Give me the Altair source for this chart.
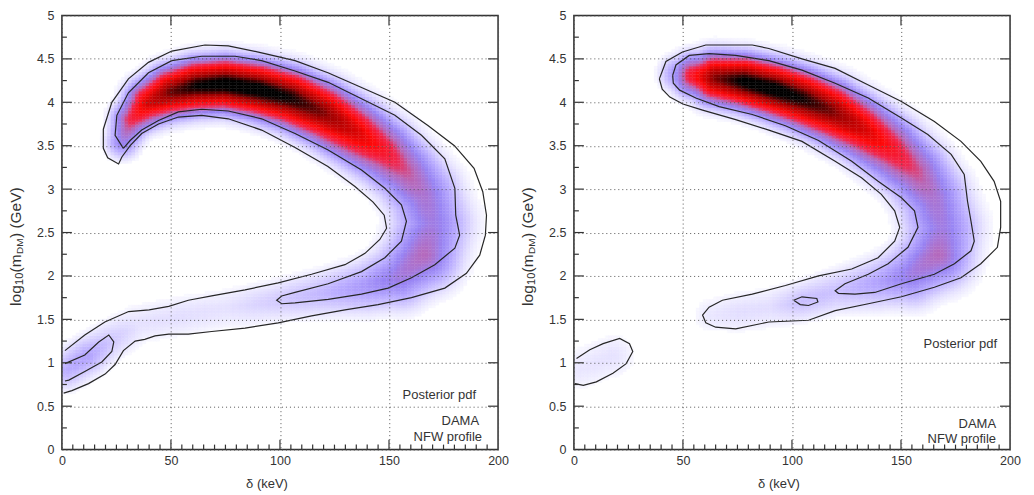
import numpy as np
import pandas as pd
import altair as alt

FONT = "Liberation Sans"
W, H = 437, 435

# ---------------- axis values ----------------
x_labels = [0, 50, 100, 150, 200]
y_labels = [0, 0.5, 1, 1.5, 2, 2.5, 3, 3.5, 4, 4.5, 5]
x_major_ticks = [50, 100, 150]
x_minor_ticks = [v for v in range(5, 200, 5) if v % 50 != 0]
y_major_ticks = [0.5, 1, 1.5, 2, 2.5, 3, 3.5, 4, 4.5]
y_minor_ticks = [0.25, 0.75, 1.25, 1.75, 2.25, 2.75, 3.25, 3.75, 4.25, 4.75]

# ---------------- posterior ridges ----------------
# left panel: segment id, delta (keV), log10 m, relative pdf, width (px)
L_seg   = [0]*25
L_delta = [28, 32, 40, 50, 62, 75, 90, 105, 120, 135, 148, 158, 166, 170, 166, 155, 140, 120, 100, 75, 55, 35, 22, 12, 2]
L_logm  = [3.55, 3.80, 4.00, 4.12, 4.19, 4.21, 4.15, 4.05, 3.88, 3.65, 3.43, 3.20, 2.93, 2.60, 2.25, 2.00, 1.88, 1.80, 1.72, 1.62, 1.54, 1.45, 1.25, 1.08, 0.92]
L_amp   = [0.32, 0.52, 0.72, 0.87, 0.96, 1.0, 1.0, 0.95, 0.85, 0.70, 0.56, 0.45, 0.37, 0.33, 0.41, 0.34, 0.25, 0.17, 0.12, 0.06, 0.07, 0.06, 0.13, 0.22, 0.19]
L_sig   = [14, 17, 21, 23, 24, 24, 25, 26, 27, 28, 28, 28, 30, 32, 31, 27, 22, 18, 16, 15, 15, 15, 15, 16, 16]

# right panel
R_seg   = [0]*20 + [1, 1]
R_delta = [48, 55, 65, 78, 92, 105, 118, 132, 145, 157, 165, 169, 167, 155, 140, 120, 105, 90, 75, 63, 3, 18]
R_logm  = [4.33, 4.31, 4.28, 4.24, 4.15, 4.04, 3.90, 3.70, 3.47, 3.20, 2.90, 2.55, 2.25, 2.02, 1.92, 1.82, 1.71, 1.63, 1.58, 1.55, 0.93, 1.08]
R_amp   = [0.28, 0.58, 0.85, 0.98, 1.0, 0.95, 0.86, 0.72, 0.58, 0.46, 0.37, 0.33, 0.41, 0.33, 0.22, 0.14, 0.15, 0.07, 0.07, 0.05, 0.05, 0.06]
R_sig   = [15, 19, 23, 24, 25, 26, 27, 27, 28, 28, 29, 31, 30, 26, 21, 17, 15, 15, 15, 13, 16, 16]

# ---------------- contours ----------------
L_outer_d = [0.8, 4.6, 12.2, 19.8, 24.4, 28.2, 33.6, 38, 42.7, 49, 58, 68.7, 84, 99.2, 114.5, 129.8, 145, 160.3, 175.6, 185.5, 191.6, 194.2, 194.7, 193, 189, 180, 168, 152.7, 137.4, 122, 106.9, 91.6, 76.3, 65.6, 50.4, 39.7, 30.5, 22.9, 19, 19, 21, 26, 27.5, 31.3, 36.6, 44.3, 53.4, 64.1, 76.3, 91.6, 106.9, 122, 134.4, 142.7, 147.8, 148.9, 145.8, 139, 129.8, 114.5, 99.2, 84, 68.7, 58, 49, 40, 30.6, 19.7, 10.5, 1.4]
L_outer_m = [0.65, 0.68, 0.76, 0.87, 0.98, 1.14, 1.25, 1.27, 1.31, 1.33, 1.33, 1.36, 1.40, 1.46, 1.54, 1.61, 1.67, 1.75, 1.86, 2.03, 2.24, 2.47, 2.70, 2.97, 3.24, 3.50, 3.73, 4.00, 4.17, 4.34, 4.48, 4.57, 4.65, 4.66, 4.59, 4.46, 4.27, 4.00, 3.69, 3.47, 3.36, 3.29, 3.37, 3.50, 3.64, 3.75, 3.83, 3.85, 3.81, 3.68, 3.48, 3.26, 3.03, 2.85, 2.70, 2.55, 2.42, 2.26, 2.13, 2.02, 1.92, 1.84, 1.77, 1.72, 1.65, 1.61, 1.59, 1.47, 1.32, 1.14]
L_inner_d = [28.2, 24.4, 25.2, 30.5, 39.7, 50.4, 64.1, 79.4, 91.6, 106.9, 122.1, 137.4, 152.7, 164.9, 175.6, 180.2, 180.6, 182.4, 180.2, 171, 160.3, 149.6, 137.4, 122.1, 106.9, 100.8, 98.5, 100.8, 106.9, 122.1, 137.4, 148.1, 155.7, 158, 155.7, 148.1, 137.4, 122.1, 106.9, 91.6, 76.3, 64.1, 53.4, 44.3, 36.6, 31.3, 28.2]
L_inner_m = [3.47, 3.62, 3.85, 4.11, 4.34, 4.48, 4.53, 4.53, 4.48, 4.36, 4.23, 4.04, 3.85, 3.62, 3.35, 3.01, 2.70, 2.47, 2.32, 2.13, 1.98, 1.86, 1.79, 1.73, 1.69, 1.68, 1.72, 1.77, 1.81, 1.91, 2.05, 2.21, 2.40, 2.63, 2.82, 3.01, 3.22, 3.45, 3.64, 3.81, 3.90, 3.92, 3.89, 3.79, 3.68, 3.56, 3.47]
L_blob_d = [1.4, 10.5, 16.9, 21.5, 23.8, 22.9, 18.3, 10.5, 3.2, 1.4]
L_blob_m = [0.99, 1.09, 1.24, 1.32, 1.24, 1.13, 1.01, 0.90, 0.80, 0.79]

R_outer_d = [39.2, 42.2, 49.8, 60.5, 81.8, 89.4, 104.6, 119.8, 135, 150.2, 165.3, 177.5, 186.6, 192.7, 195.7, 195.7, 194.2, 186.6, 177.5, 165.3, 150.2, 135, 119.8, 107.6, 89.4, 74.2, 65, 60.5, 59, 62, 68.1, 81.8, 97, 112.2, 127.4, 139.5, 147.1, 149.4, 147.1, 141, 131.9, 119.8, 104.6, 89.4, 74.2, 59, 50, 44, 40.5, 39.2]
R_outer_m = [4.27, 4.47, 4.58, 4.66, 4.66, 4.62, 4.50, 4.39, 4.20, 4.01, 3.78, 3.55, 3.32, 3.09, 2.86, 2.56, 2.33, 2.14, 1.98, 1.87, 1.76, 1.68, 1.60, 1.49, 1.47, 1.39, 1.41, 1.46, 1.55, 1.64, 1.72, 1.79, 1.89, 2.00, 2.08, 2.21, 2.40, 2.56, 2.75, 2.94, 3.13, 3.32, 3.55, 3.68, 3.80, 3.91, 3.98, 4.06, 4.15, 4.27]
R_inner_d = [45.3, 46.8, 52.9, 62, 74.2, 89.4, 104.6, 119.8, 135, 150.2, 162.3, 173, 179, 180.5, 182.1, 183.6, 182.1, 174.5, 165.3, 150.2, 138, 128.9, 121.3, 119.8, 124.3, 135, 144.1, 153.2, 157.8, 156.2, 150.2, 139.5, 127.4, 112.2, 97, 81.8, 66.6, 55.9, 48.5, 45.6, 45.3]
R_inner_m = [4.31, 4.43, 4.54, 4.56, 4.54, 4.48, 4.37, 4.22, 4.05, 3.82, 3.63, 3.40, 3.17, 2.86, 2.63, 2.40, 2.29, 2.14, 2.02, 1.91, 1.81, 1.79, 1.80, 1.83, 1.91, 2.02, 2.14, 2.33, 2.56, 2.75, 2.90, 3.09, 3.32, 3.56, 3.73, 3.86, 3.95, 4.05, 4.14, 4.22, 4.31]
R_small_d = [100.8, 104.6, 111.4, 111.9, 107.6, 103.8, 100.8]
R_small_m = [1.72, 1.76, 1.74, 1.70, 1.66, 1.67, 1.72]
R_blob_d = [1.2, 7.3, 13.4, 21, 25.5, 27, 24, 17.9, 10.3, 4.3, 0.5]
R_blob_m = [1.05, 1.15, 1.22, 1.28, 1.22, 1.13, 0.99, 0.88, 0.78, 0.74, 0.76]

# ---------------- colour map ----------------
c_domain = [0, 0.03, 0.1, 0.2, 0.3, 0.42, 0.5, 0.62, 0.82, 0.96]
c_range = ["#ffffff", "#f1efff", "#d9d2ff", "#b8aaff", "#9884f4", "#b868b8", "#f02850", "#ff0a0a", "#a00000", "#000000"]

STEP_X, STEP_Y = 1.6, 0.032
FLAT_P, FLAT_W, CORE_W, CORE_R = 3.5, 0.65, 0.35, 0.4


def density_table(seg, d, m, a, s):
    kx, ky = W / 200.0, H / 5.0
    xs = np.arange(0, 200, STEP_X) + STEP_X / 2
    ys = np.arange(0, 5, STEP_Y) + STEP_Y / 2
    X, Y = np.meshgrid(xs, ys)
    PX, PY = X.ravel() * kx, Y.ravel() * ky
    dens = np.zeros_like(PX)
    for i in range(len(d) - 1):
        if seg[i] != seg[i + 1]:
            continue
        ax, ay = d[i] * kx, m[i] * ky
        bx, by = d[i + 1] * kx, m[i + 1] * ky
        vx, vy = bx - ax, by - ay
        L2 = vx * vx + vy * vy
        t = np.clip(((PX - ax) * vx + (PY - ay) * vy) / L2, 0, 1)
        dist = np.sqrt((PX - ax - t * vx) ** 2 + (PY - ay - t * vy) ** 2)
        amp = a[i] + t * (a[i + 1] - a[i])
        sig = s[i] + t * (s[i + 1] - s[i])
        u = dist / sig
        prof = FLAT_W * np.exp(-0.5 * u ** FLAT_P) + CORE_W * np.exp(-0.5 * (u / CORE_R) ** 2)
        dens = np.maximum(dens, amp * prof)
    keep = dens > 0.012
    return pd.DataFrame({
        "x0": np.round(X.ravel()[keep] - STEP_X / 2, 2),
        "y0": np.round(Y.ravel()[keep] - STEP_Y / 2, 3),
        "v": np.round(dens[keep], 3),
    })


def contour_table(paths):
    rows = []
    for cid, (dd, mm) in enumerate(paths):
        for i, (a, b) in enumerate(zip(dd, mm)):
            rows.append({"cid": cid, "i": i, "d": a, "m": b})
    return pd.DataFrame(rows)


xscale = alt.Scale(domain=[0, 200], nice=False, zero=False)
yscale = alt.Scale(domain=[0, 5], nice=False, zero=False)
cscale = alt.Scale(domain=c_domain, range=c_range, interpolate="rgb")

xaxis = alt.Axis(values=x_labels, grid=True, gridDash=[1, 3], gridColor="#555", gridWidth=1,
                 ticks=False, tickSize=0, domain=False, labelPadding=5, labelFontSize=12.5,
                 labelFont=FONT, labelColor="#333", labelFlush=False, title="δ (keV)",
                 titleFont=FONT, titleFontSize=13, titleFontWeight="normal", titleColor="#333",
                 titleX=205, titleY=34, titleBaseline="middle", zindex=1)
yaxis = alt.Axis(values=y_labels, format="~g", grid=True, gridDash=[1, 3], gridColor="#555",
                 gridWidth=1, ticks=False, tickSize=0, domain=False, labelPadding=8,
                 labelFontSize=12.5, labelFont=FONT, labelColor="#333", title=None, zindex=1)

ONE = alt.Data(values=[{}])


def panel(seg, d, m, a, s, paths, notes):
    heat = alt.Chart(density_table(seg, d, m, a, s)).transform_calculate(
        x1=f"datum.x0 + {STEP_X * 1.04}", y1=f"datum.y0 + {STEP_Y * 1.04}"
    ).mark_rect(strokeWidth=0.3).encode(
        x=alt.X("x0:Q", scale=xscale, axis=xaxis),
        x2="x1:Q",
        y=alt.Y("y0:Q", scale=yscale, axis=yaxis),
        y2="y1:Q",
        fill=alt.Fill("v:Q", scale=cscale, legend=None),
        stroke=alt.Stroke("v:Q", scale=cscale, legend=None),
    )
    lines = alt.Chart(contour_table(paths)).mark_line(color="#262626", strokeWidth=1.2).encode(
        x=alt.X("d:Q", scale=xscale), y=alt.Y("m:Q", scale=yscale),
        detail="cid:N", order="i:Q")

    tk = dict(color="#333", strokeWidth=1.2)
    bx_maj = alt.Chart(pd.DataFrame({"t": x_major_ticks}))
    bx_min = alt.Chart(pd.DataFrame({"t": x_minor_ticks}))
    by_maj = alt.Chart(pd.DataFrame({"t": y_major_ticks}))
    by_min = alt.Chart(pd.DataFrame({"t": y_minor_ticks}))
    ticks = [
        bx_maj.mark_rule(**tk).encode(x=alt.X("t:Q", scale=xscale), y=alt.value(H), y2=alt.value(H - 10)),
        bx_maj.mark_rule(**tk).encode(x=alt.X("t:Q", scale=xscale), y=alt.value(0), y2=alt.value(10)),
        bx_min.mark_rule(**tk).encode(x=alt.X("t:Q", scale=xscale), y=alt.value(H), y2=alt.value(H - 5)),
        by_maj.mark_rule(**tk).encode(y=alt.Y("t:Q", scale=yscale), x=alt.value(0), x2=alt.value(10)),
        by_maj.mark_rule(**tk).encode(y=alt.Y("t:Q", scale=yscale), x=alt.value(W), x2=alt.value(W - 10)),
        by_min.mark_rule(**tk).encode(y=alt.Y("t:Q", scale=yscale), x=alt.value(0), x2=alt.value(5)),
    ]
    frame = alt.Chart(ONE).mark_rect(fill="transparent", stroke="#333", strokeWidth=1.5).encode(
        x=alt.value(0), x2=alt.value(W), y=alt.value(0), y2=alt.value(H))

    # rotated y title with subscripts
    ttl = []
    pieces = [("log", 15.5, 0, 0), ("10", 11, 21, 4), ("(m", 15.5, 33.5, 0),
              ("DM", 10, 52, 4.5), (") (GeV)", 15.5, 68, 0)]
    for txt, fs, dx, dy in pieces:
        ttl.append(alt.Chart(ONE).mark_text(text=txt, font=FONT, fontSize=fs, angle=270,
                                            align="left", baseline="middle", dx=dx, dy=dy,
                                            color="#333").encode(x=alt.value(-46), y=alt.value(291)))
    txts = []
    for txt, px, py in notes:
        txts.append(alt.Chart(ONE).mark_text(text=txt, font=FONT, fontSize=13, align="right",
                                             baseline="middle", color="#333").encode(
            x=alt.value(px), y=alt.value(py)))
    return alt.layer(heat, lines, *ticks, frame, *ttl, *txts).properties(width=W, height=H)


left = panel(L_seg, L_delta, L_logm, L_amp, L_sig,
             [(L_outer_d, L_outer_m), (L_inner_d, L_inner_m), (L_blob_d, L_blob_m)],
             [("Posterior pdf", 415, 380), ("DAMA", 418, 406), ("NFW profile", 421, 422)])
right = panel(R_seg, R_delta, R_logm, R_amp, R_sig,
              [(R_outer_d, R_outer_m), (R_inner_d, R_inner_m), (R_small_d, R_small_m), (R_blob_d, R_blob_m)],
              [("Posterior pdf", 424, 329), ("DAMA", 423, 409), ("NFW profile", 423, 424)])

chart = alt.hconcat(left, right, spacing=11).properties(
    padding={"left": 0, "top": 0, "right": 5, "bottom": 5}
).configure_view(stroke=None).configure(background="white")

chart.save("out.html", embed_options={"renderer": "svg", "actions": False})
